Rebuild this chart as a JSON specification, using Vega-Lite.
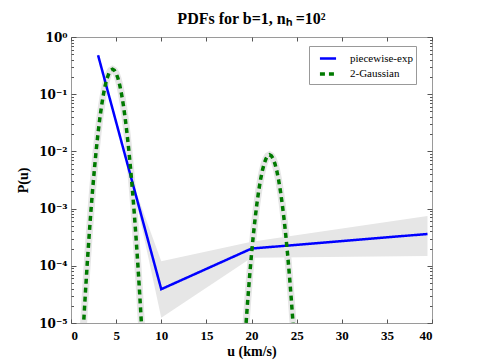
{
  "$schema": "https://vega.github.io/schema/vega-lite/v6.json",
  "width": 361,
  "height": 286,
  "autosize": {"type": "none"},
  "padding": {"left": 71, "top": 37, "right": 48, "bottom": 40},
  "background": "white",
  "title": {"text": "PDFs for b=1, nₕ =10²", "font": "Liberation Serif", "fontSize": 16, "fontWeight": "bold", "color": "black", "offset": 4},
  "config": {
    "view": {"stroke": "#9a9a9a", "strokeWidth": 1},
    "axis": {"domain": false, "grid": false, "labelFont": "Liberation Serif", "labelFontWeight": "bold", "labelFontSize": 13, "labelColor": "black", "titleFont": "Liberation Serif", "titleFontWeight": "bold", "titleFontSize": 14, "titleColor": "black", "tickColor": "#555"}
  },
  "datasets": {
    "band": [
      {"u": 3, "lo": 0.447, "hi": 0.513},
      {"u": 7, "lo": 0.0020, "hi": 0.0024},
      {"u": 10, "lo": 1.23e-5, "hi": 1.2e-4},
      {"u": 20, "lo": 1.38e-4, "hi": 2.63e-4},
      {"u": 39.5, "lo": 1.48e-4, "hi": 7.4e-4}
    ],
    "lines": [
      {"series": "piecewise-exp", "seg": "b", "u": 3, "P": 0.48},
      {"series": "piecewise-exp", "seg": "b", "u": 10, "P": 3.9e-5},
      {"series": "piecewise-exp", "seg": "b", "u": 20, "P": 2.0e-4},
      {"series": "piecewise-exp", "seg": "b", "u": 39.5, "P": 3.6e-4},
      {"series": "2-Gaussian", "seg": "g1", "u": 1.2, "P": 2.69e-6},
      {"series": "2-Gaussian", "seg": "g1", "u": 1.4, "P": 1.0e-5},
      {"series": "2-Gaussian", "seg": "g1", "u": 1.6, "P": 3.45e-5},
      {"series": "2-Gaussian", "seg": "g1", "u": 1.8, "P": 1.10e-4},
      {"series": "2-Gaussian", "seg": "g1", "u": 2.0, "P": 3.22e-4},
      {"series": "2-Gaussian", "seg": "g1", "u": 2.2, "P": 8.73e-4},
      {"series": "2-Gaussian", "seg": "g1", "u": 2.4, "P": 0.00218},
      {"series": "2-Gaussian", "seg": "g1", "u": 2.6, "P": 0.00505},
      {"series": "2-Gaussian", "seg": "g1", "u": 2.8, "P": 0.01076},
      {"series": "2-Gaussian", "seg": "g1", "u": 3.0, "P": 0.0212},
      {"series": "2-Gaussian", "seg": "g1", "u": 3.2, "P": 0.0385},
      {"series": "2-Gaussian", "seg": "g1", "u": 3.4, "P": 0.0647},
      {"series": "2-Gaussian", "seg": "g1", "u": 3.6, "P": 0.1005},
      {"series": "2-Gaussian", "seg": "g1", "u": 3.8, "P": 0.1439},
      {"series": "2-Gaussian", "seg": "g1", "u": 4.0, "P": 0.1901},
      {"series": "2-Gaussian", "seg": "g1", "u": 4.2, "P": 0.2323},
      {"series": "2-Gaussian", "seg": "g1", "u": 4.4, "P": 0.2618},
      {"series": "2-Gaussian", "seg": "g1", "u": 4.6, "P": 0.2723},
      {"series": "2-Gaussian", "seg": "g1", "u": 4.8, "P": 0.2618},
      {"series": "2-Gaussian", "seg": "g1", "u": 5.0, "P": 0.2323},
      {"series": "2-Gaussian", "seg": "g1", "u": 5.2, "P": 0.1901},
      {"series": "2-Gaussian", "seg": "g1", "u": 5.4, "P": 0.1439},
      {"series": "2-Gaussian", "seg": "g1", "u": 5.6, "P": 0.1005},
      {"series": "2-Gaussian", "seg": "g1", "u": 5.8, "P": 0.0647},
      {"series": "2-Gaussian", "seg": "g1", "u": 6.0, "P": 0.0385},
      {"series": "2-Gaussian", "seg": "g1", "u": 6.2, "P": 0.0212},
      {"series": "2-Gaussian", "seg": "g1", "u": 6.4, "P": 0.01076},
      {"series": "2-Gaussian", "seg": "g1", "u": 6.6, "P": 0.00505},
      {"series": "2-Gaussian", "seg": "g1", "u": 6.8, "P": 0.00218},
      {"series": "2-Gaussian", "seg": "g1", "u": 7.0, "P": 8.73e-4},
      {"series": "2-Gaussian", "seg": "g1", "u": 7.2, "P": 3.22e-4},
      {"series": "2-Gaussian", "seg": "g1", "u": 7.4, "P": 1.10e-4},
      {"series": "2-Gaussian", "seg": "g1", "u": 7.6, "P": 3.45e-5},
      {"series": "2-Gaussian", "seg": "g1", "u": 7.8, "P": 1.0e-5},
      {"series": "2-Gaussian", "seg": "g1", "u": 8.0, "P": 2.69e-6},
      {"series": "2-Gaussian", "seg": "g2", "u": 19.2, "P": 3.39e-6},
      {"series": "2-Gaussian", "seg": "g2", "u": 19.4, "P": 9.98e-6},
      {"series": "2-Gaussian", "seg": "g2", "u": 19.6, "P": 2.72e-5},
      {"series": "2-Gaussian", "seg": "g2", "u": 19.8, "P": 6.84e-5},
      {"series": "2-Gaussian", "seg": "g2", "u": 20.0, "P": 1.585e-4},
      {"series": "2-Gaussian", "seg": "g2", "u": 20.2, "P": 3.40e-4},
      {"series": "2-Gaussian", "seg": "g2", "u": 20.4, "P": 6.70e-4},
      {"series": "2-Gaussian", "seg": "g2", "u": 20.6, "P": 0.00122},
      {"series": "2-Gaussian", "seg": "g2", "u": 20.8, "P": 0.00206},
      {"series": "2-Gaussian", "seg": "g2", "u": 21.0, "P": 0.00320},
      {"series": "2-Gaussian", "seg": "g2", "u": 21.2, "P": 0.00459},
      {"series": "2-Gaussian", "seg": "g2", "u": 21.4, "P": 0.00607},
      {"series": "2-Gaussian", "seg": "g2", "u": 21.6, "P": 0.00741},
      {"series": "2-Gaussian", "seg": "g2", "u": 21.8, "P": 0.00838},
      {"series": "2-Gaussian", "seg": "g2", "u": 22.0, "P": 0.00871},
      {"series": "2-Gaussian", "seg": "g2", "u": 22.2, "P": 0.00838},
      {"series": "2-Gaussian", "seg": "g2", "u": 22.4, "P": 0.00741},
      {"series": "2-Gaussian", "seg": "g2", "u": 22.6, "P": 0.00607},
      {"series": "2-Gaussian", "seg": "g2", "u": 22.8, "P": 0.00459},
      {"series": "2-Gaussian", "seg": "g2", "u": 23.0, "P": 0.00320},
      {"series": "2-Gaussian", "seg": "g2", "u": 23.2, "P": 0.00206},
      {"series": "2-Gaussian", "seg": "g2", "u": 23.4, "P": 0.00122},
      {"series": "2-Gaussian", "seg": "g2", "u": 23.6, "P": 6.70e-4},
      {"series": "2-Gaussian", "seg": "g2", "u": 23.8, "P": 3.40e-4},
      {"series": "2-Gaussian", "seg": "g2", "u": 24.0, "P": 1.585e-4},
      {"series": "2-Gaussian", "seg": "g2", "u": 24.2, "P": 6.84e-5},
      {"series": "2-Gaussian", "seg": "g2", "u": 24.4, "P": 2.72e-5},
      {"series": "2-Gaussian", "seg": "g2", "u": 24.6, "P": 9.98e-6},
      {"series": "2-Gaussian", "seg": "g2", "u": 24.8, "P": 3.39e-6}
    ]
  },
  "resolve": {"axis": {"x": "independent", "y": "independent"}},
  "layer": [
    {
      "data": {"name": "band"},
      "mark": {"type": "area", "color": "#e6e6e6", "clip": true},
      "encoding": {
        "x": {"field": "u", "type": "quantitative", "scale": {"domain": [0, 40], "nice": false},
              "axis": {"orient": "bottom", "title": "u (km/s)", "values": [0, 5, 10, 15, 20, 25, 30, 35, 40], "tickSize": -4, "labelPadding": 10, "titlePadding": 2}},
        "y": {"field": "lo", "type": "quantitative", "scale": {"type": "log", "domain": [1e-5, 1], "nice": false},
              "axis": {"orient": "left", "title": "P(u)", "titlePadding": 8, "labelFont": "DejaVu Serif", "labelFontSize": 12,
                       "values": [1e-5, 2e-5, 3e-5, 4e-5, 5e-5, 6e-5, 7e-5, 8e-5, 9e-5, 1e-4, 2e-4, 3e-4, 4e-4, 5e-4, 6e-4, 7e-4, 8e-4, 9e-4, 1e-3, 2e-3, 3e-3, 4e-3, 5e-3, 6e-3, 7e-3, 8e-3, 9e-3, 1e-2, 2e-2, 3e-2, 4e-2, 5e-2, 6e-2, 7e-2, 8e-2, 9e-2, 0.1, 0.2, 0.3, 0.4, 0.5, 0.6, 0.7, 0.8, 0.9, 1],
                       "labelExpr": "abs(log(datum.value)/LN10 - round(log(datum.value)/LN10)) < 0.001 ? '10' + ['⁰','⁻¹','⁻²','⁻³','⁻⁴','⁻⁵'][round(-log(datum.value)/LN10)] : ''",
                       "tickSize": {"condition": {"test": "abs(log(datum.value)/LN10 - round(log(datum.value)/LN10)) < 0.001", "value": -5}, "value": -2.5},
                       "labelPadding": 9}},
        "y2": {"field": "hi"}
      }
    },
    {
      "data": {"name": "lines"},
      "transform": [{"filter": "datum.series === '2-Gaussian'"}],
      "mark": {"type": "line", "color": "#e6e6e6", "strokeWidth": 7, "clip": true},
      "encoding": {
        "x": {"field": "u", "type": "quantitative", "axis": {"orient": "top", "title": null, "labels": false, "values": [0, 5, 10, 15, 20, 25, 30, 35, 40], "tickSize": -4}},
        "y": {"field": "P", "type": "quantitative",
              "axis": {"orient": "right", "title": null, "labels": false,
                       "values": [1e-5, 2e-5, 3e-5, 4e-5, 5e-5, 6e-5, 7e-5, 8e-5, 9e-5, 1e-4, 2e-4, 3e-4, 4e-4, 5e-4, 6e-4, 7e-4, 8e-4, 9e-4, 1e-3, 2e-3, 3e-3, 4e-3, 5e-3, 6e-3, 7e-3, 8e-3, 9e-3, 1e-2, 2e-2, 3e-2, 4e-2, 5e-2, 6e-2, 7e-2, 8e-2, 9e-2, 0.1, 0.2, 0.3, 0.4, 0.5, 0.6, 0.7, 0.8, 0.9, 1],
                       "tickSize": {"condition": {"test": "abs(log(datum.value)/LN10 - round(log(datum.value)/LN10)) < 0.001", "value": -5}, "value": -2.5}}},
        "detail": {"field": "seg"}
      }
    },
    {
      "data": {"name": "lines"},
      "mark": {"type": "line", "clip": true},
      "encoding": {
        "x": {"field": "u", "type": "quantitative", "axis": null},
        "y": {"field": "P", "type": "quantitative", "axis": null},
        "detail": {"field": "seg"},
        "color": {"field": "series", "type": "nominal", "scale": {"domain": ["piecewise-exp", "2-Gaussian"], "range": ["#0000ff", "#007a00"]},
                  "legend": {"title": null, "orient": "none", "legendX": 238, "legendY": 9, "symbolType": "stroke", "symbolSize": 260, "symbolStrokeWidth": 3, "labelFont": "Liberation Serif", "labelFontSize": 11, "labelColor": "black", "labelOffset": 12, "strokeColor": "#999", "fillColor": "white", "padding": 3, "rowPadding": -4, "symbolOffset": 6}},
        "strokeDash": {"field": "series", "type": "nominal", "scale": {"domain": ["piecewise-exp", "2-Gaussian"], "range": [[1, 0], [5, 4]]}},
        "strokeWidth": {"field": "series", "type": "nominal", "scale": {"domain": ["piecewise-exp", "2-Gaussian"], "range": [2.5, 3.5]}, "legend": null}
      }
    }
  ]
}
